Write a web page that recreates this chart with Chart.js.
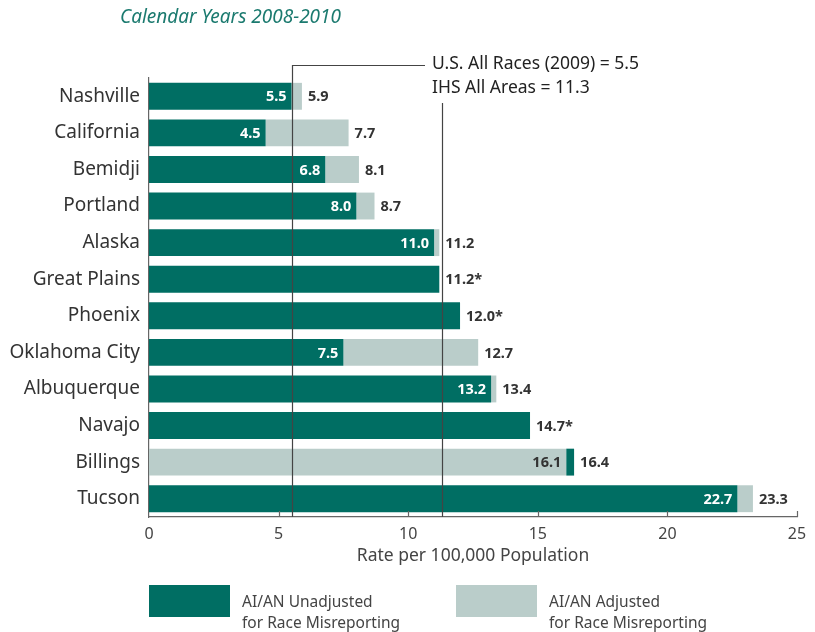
<!DOCTYPE html>
<html>
<head>
<meta charset="utf-8">
<script src="https://cdn.jsdelivr.net/npm/chart.js@4/dist/chart.umd.min.js"></script>
<style>
    html, body { margin: 0; padding: 0; background: #fff; }
    #wrap { position: relative; width: 815px; height: 632px; }
    .legend-box { position: absolute; width: 81px; height: 32px; top: 585px; }
    .legend-text { position: absolute; top: 591px; font-family: 'Noto Sans', sans-serif; font-size: 15.5px; line-height: 21px; color: #444; }
</style>
</head>
<body>
<div id="wrap">
    <canvas id="chart" width="815" height="632"></canvas>
    <div class="legend-box" style="left:149px;background:#006e63"></div>
    <div class="legend-text" style="left:242px">AI/AN Unadjusted<br>for Race Misreporting</div>
    <div class="legend-box" style="left:456px;background:#bacdca"></div>
    <div class="legend-text" style="left:549px">AI/AN Adjusted<br>for Race Misreporting</div>
</div>
<script>
// ─── Data ───
const regions = ['Nashville', 'California', 'Bemidji', 'Portland', 'Alaska', 'Great Plains',
    'Phoenix', 'Oklahoma City', 'Albuquerque', 'Navajo', 'Billings', 'Tucson'];
const unadjusted = [5.5, 4.5, 6.8, 8.0, 11.0, 11.2, 12.0, 7.5, 13.2, 14.7, 16.4, 22.7];
const adjusted = [5.9, 7.7, 8.1, 8.7, 11.2, null, null, 12.7, 13.4, null, 16.1, 23.3];
const xTicks = [0, 5, 10, 15, 20, 25];
const usAllRaces = 5.5;
const ihsAllAreas = 11.3;

const DARK = '#006e63';
const LIGHT = '#bacdca';
const TEXT = '#333333';
const FONT = "'Noto Sans', sans-serif";

// floating segments: whichever value is smaller sits at the base
const darkBars = unadjusted.map((u, i) => {
    const a = adjusted[i];
    return (a !== null && a < u) ? [a, u] : [0, u];
});
const lightBars = adjusted.map((a, i) => {
    const u = unadjusted[i];
    if (a === null) return null;
    return a < u ? [0, a] : [u, a];
});

// ─── Labels, ticks and reference lines ───
const overlayPlugin = {
    id: 'overlay',
    afterDatasetsDraw(chart) {
        const { ctx, scales: { x, y }, chartArea } = chart;
        ctx.save();

        // bar value labels
        ctx.textBaseline = 'middle';
        ctx.font = 'bold 14.5px ' + FONT;
        regions.forEach((r, i) => {
            const u = unadjusted[i], a = adjusted[i];
            const yc = y.getPixelForValue(i) + 1;
            if (a !== null) {
                const inner = Math.min(u, a);
                ctx.textAlign = 'right';
                ctx.fillStyle = (a < u) ? TEXT : '#ffffff';
                ctx.fillText(inner.toFixed(1), x.getPixelForValue(inner) - 5, yc);
            }
            const outer = a === null ? u : Math.max(u, a);
            ctx.textAlign = 'left';
            ctx.fillStyle = TEXT;
            ctx.fillText(outer.toFixed(1) + (a === null ? '*' : ''), x.getPixelForValue(outer) + 6, yc);
        });

        // reference lines
        ctx.strokeStyle = '#444';
        ctx.lineWidth = 1.2;
        const x1 = Math.round(x.getPixelForValue(usAllRaces)) + 0.5;
        const x2 = Math.round(x.getPixelForValue(ihsAllAreas)) + 0.5;
        ctx.beginPath();
        ctx.moveTo(x1, chartArea.bottom);
        ctx.lineTo(x1, 65.5);
        ctx.lineTo(425, 65.5);
        ctx.moveTo(x2, chartArea.bottom);
        ctx.lineTo(x2, 103);
        ctx.stroke();

        ctx.font = '17.5px ' + FONT;
        ctx.fillStyle = '#222';
        ctx.textAlign = 'left';
        ctx.fillText('U.S. All Races (2009) = ' + usAllRaces, 432, 64);
        ctx.fillText('IHS All Areas = ' + ihsAllAreas, 432, 88);

        // inward tick marks on the x axis
        ctx.strokeStyle = '#666';
        ctx.lineWidth = 1.2;
        ctx.beginPath();
        xTicks.slice(1).forEach(v => {
            const px = Math.round(x.getPixelForValue(v)) + 0.5;
            ctx.moveTo(px, chartArea.bottom);
            ctx.lineTo(px, chartArea.bottom - 6);
        });
        ctx.stroke();

        // axis title
        ctx.font = '17.5px ' + FONT;
        ctx.fillStyle = '#444';
        ctx.textAlign = 'center';
        ctx.fillText('Rate per 100,000 Population', (chartArea.left + chartArea.right) / 2, 556);

        // subtitle
        ctx.font = 'italic 19px ' + FONT;
        ctx.fillStyle = '#1b7a6f';
        ctx.textAlign = 'left';
        ctx.fillText('Calendar Years 2008-2010', 120, 18);

        ctx.restore();
    }
};

new Chart(document.getElementById('chart'), {
    type: 'bar',
    data: {
        labels: regions,
        datasets: [
            {
                label: 'AI/AN Unadjusted for Race Misreporting',
                data: darkBars,
                backgroundColor: DARK,
                grouped: false,
                barPercentage: 0.735,
                categoryPercentage: 1
            },
            {
                label: 'AI/AN Adjusted for Race Misreporting',
                data: lightBars,
                backgroundColor: LIGHT,
                grouped: false,
                barPercentage: 0.735,
                categoryPercentage: 1
            }
        ]
    },
    options: {
        indexAxis: 'y',
        responsive: false,
        animation: false,
        layout: { padding: { top: 78, right: 18, left: 0, bottom: 0 } },
        plugins: {
            legend: { display: false },
            tooltip: { enabled: false }
        },
        scales: {
            x: {
                min: 0, max: 25,
                afterFit: s => { s.height = 115; },
                afterBuildTicks: s => { s.ticks = xTicks.map(v => ({ value: v })); },
                grid: { display: false, drawTicks: false },
                border: { display: true, color: '#666', width: 1.2 },
                ticks: { color: '#444', font: { family: FONT, size: 16 }, padding: 8 }
            },
            y: {
                afterFit: s => { s.width = 149; },
                grid: { display: false, drawTicks: false },
                border: { display: true, color: '#666', width: 1.2 },
                ticks: { color: TEXT, font: { family: FONT, size: 19 }, padding: 9 }
            }
        }
    },
    plugins: [overlayPlugin]
});
</script>
</body>
</html>
